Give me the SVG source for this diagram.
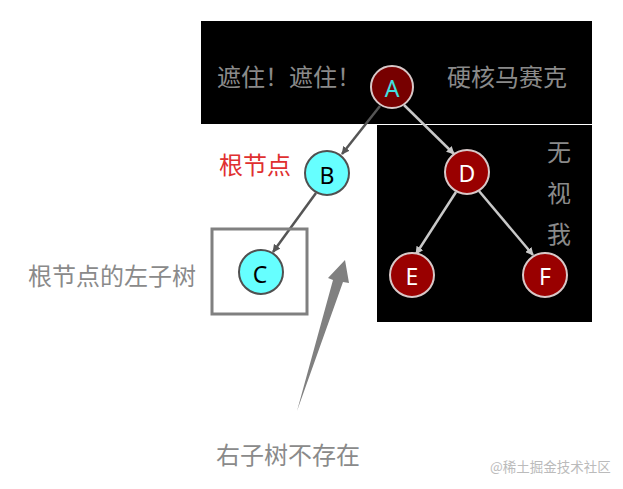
<svg xmlns="http://www.w3.org/2000/svg" width="623" height="489" viewBox="0 0 623 489">
<style>
text{font-family:"Noto Sans CJK SC","Liberation Sans",sans-serif;}
.lbl{font-size:24px;fill:#8a8a8a;}
.nl{font-size:23px;text-anchor:middle;dominant-baseline:central;font-family:"Noto Sans","Liberation Sans",sans-serif;}
.red{fill:#990000;stroke:#d8c8c8;stroke-width:2;}
.cy{fill:#66ffff;stroke:#505050;stroke-width:2;}
.edgeW{stroke:#555;stroke-width:2.5;fill:none;marker-end:url(#ahD);}
.edgeB{stroke:#c8c8c8;stroke-width:2.5;fill:none;marker-end:url(#ahL);}
</style>
<defs>
<marker id="ahD" viewBox="0 0 10 10" refX="9" refY="5" markerWidth="8" markerHeight="8" orient="auto" markerUnits="userSpaceOnUse"><path d="M0,0 L10,5 L0,10 z" fill="#555"/></marker>
<marker id="ahL" viewBox="0 0 10 10" refX="9" refY="5" markerWidth="8" markerHeight="8" orient="auto" markerUnits="userSpaceOnUse"><path d="M0,0 L10,5 L0,10 z" fill="#c8c8c8"/></marker>
</defs>
<rect width="623" height="489" fill="#fff"/>
<rect x="201" y="21" width="391" height="103" fill="#000"/>
<rect x="377" y="125" width="215" height="197" fill="#000"/>
<g id="connectors">
<line class="edgeW" x1="380" y1="106" x2="342" y2="154"/>
<line class="edgeB" x1="404" y1="105" x2="454" y2="154"/>
<line class="edgeW" x1="316" y1="193" x2="273" y2="252"/>
<line class="edgeB" x1="456" y1="192" x2="416" y2="254"/>
<line class="edgeB" x1="479" y1="191" x2="533" y2="255"/>
</g>
<g id="nodeA"><circle class="red" cx="392" cy="87" r="21" style="fill:#770000"/><text class="nl" x="392" y="88" fill="#40e0e0">A</text></g>
<g id="nodeB"><circle class="cy" cx="327" cy="173" r="22"/><text class="nl" x="327" y="175" fill="#000">B</text></g>
<g id="nodeC"><circle class="cy" cx="261" cy="272" r="22"/><text class="nl" x="260" y="274" fill="#000">C</text></g>
<g id="nodeD"><circle class="red" cx="467" cy="172" r="22"/><text class="nl" x="467" y="173" fill="#fff">D</text></g>
<g id="nodeE"><circle class="red" cx="412" cy="275" r="22"/><text class="nl" x="412" y="276" fill="#fff">E</text></g>
<g id="nodeF"><circle class="red" cx="545" cy="275" r="22"/><text class="nl" x="545" y="276" fill="#fff">F</text></g>
<g id="boxC"><rect x="212" y="229" width="95" height="85" fill="none" stroke="#808080" stroke-width="3"/></g>
<g id="bigArrow"><path d="M297,411 L333,280 L328,278 L345,260 L349,283 L343,282 Z" fill="#808080"/></g>
<text class="lbl" x="217" y="86" fill="#999">遮住！遮住！</text>
<text class="lbl" x="447" y="86">硬核马赛克</text>
<text x="219" y="174" font-size="24" fill="#e03030">根节点</text>
<text class="lbl" x="28" y="285">根节点的左子树</text>
<text class="lbl" x="547" y="161">无</text>
<text class="lbl" x="547" y="202">视</text>
<text class="lbl" x="547" y="243">我</text>
<text class="lbl" x="216" y="464">右子树不存在</text>
<text x="490" y="472" font-size="13.5" fill="#bbb">@稀土掘金技术社区</text>
</svg>
